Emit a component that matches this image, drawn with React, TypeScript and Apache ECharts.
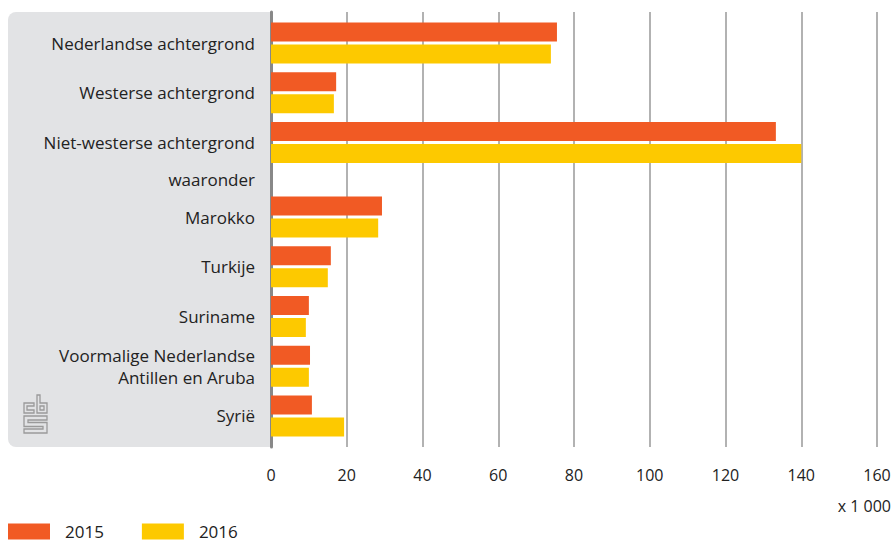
import React, { useEffect, useRef } from "react";
import * as echarts from "echarts";

const categories = [
  "Nederlandse achtergrond",
  "Westerse achtergrond",
  "Niet-westerse achtergrond",
  "waaronder",
  "Marokko",
  "Turkije",
  "Suriname",
  "Voormalige Nederlandse\nAntillen en Aruba",
  "Syrië",
];
const values2015: (number | null)[] = [75.5, 17.2, 133.3, null, 29.3, 15.8, 10.0, 10.3, 10.8];
const values2016: (number | null)[] = [73.9, 16.6, 140.0, null, 28.3, 15.0, 9.2, 10.0, 19.3];
const seriesNames = ["2015", "2016"];
const xTicks = [0, 20, 40, 60, 80, 100, 120, 140, 160];

const LOGO_D =
  "M10 8 H0 V18 H10 V15 H3 V11 H10 Z M13 0 H16 V8 H23 V18 H13 Z M16 11 V15 H20 V11 Z M0 21 H23 V25 H4 V27.5 H23 V38 H0 V34 H19 V31.5 H0 Z";

let registered = false;

export default function App() {
  const ref = useRef<HTMLDivElement>(null);
  useEffect(() => {
    if (!ref.current) return;
    if (!registered) {
      echarts.graphic.registerShape("cbslogo", echarts.graphic.extendPath(LOGO_D, {}) as any);
      registered = true;
    }
    // build quarter-slot rows: subheading gets a half slot
    const rows: string[] = ["", ""];
    const d15: (number | null)[] = [null, null];
    const d16: (number | null)[] = [null, null];
    categories.forEach((c, i) => {
      rows.push(c);
      d15.push(values2015[i]);
      d16.push(values2016[i]);
      if (i === categories.length - 1) return;
      const step = c === "waaronder" || categories[i + 1] === "waaronder" ? 3 : 4;
      for (let k = 1; k < step; k++) {
        rows.push("");
        d15.push(null);
        d16.push(null);
      }
    });
    rows.push("", "");
    d15.push(null, null);
    d16.push(null, null);

    const chart = echarts.init(ref.current, undefined, { renderer: "svg" });
    const font = "'Open Sans', sans-serif";
    chart.setOption({
      animation: false,
      textStyle: { fontFamily: font },
      grid: { left: 271, right: 17, top: 12, bottom: 97, containLabel: false },
      xAxis: {
        type: "value",
        min: xTicks[0],
        max: xTicks[xTicks.length - 1],
        interval: 20,
        axisLine: { show: false },
        axisTick: { show: false },
        axisLabel: { fontSize: 16, color: "#222", margin: 20, fontFamily: font },
        splitLine: { show: true, lineStyle: { color: "#999", width: 1.5 } },
      },
      yAxis: {
        type: "category",
        inverse: true,
        data: rows,
        axisLine: { show: true, lineStyle: { color: "#888", width: 3 } },
        axisTick: { show: false },
        splitLine: { show: false },
        axisLabel: {
          interval: 0,
          fontSize: 17,
          color: "#222",
          margin: 16,
          lineHeight: 22,
          fontFamily: font,
        },
      },
      legend: {
        data: seriesNames,
        left: 8,
        top: 523,
        padding: 0,
        itemWidth: 42,
        itemHeight: 16,
        itemGap: 38,
        icon: "rect",
        textStyle: {
          fontSize: 17,
          lineHeight: 14,
          color: "#222",
          padding: [0, 0, 0, 10],
          fontFamily: font,
        },
      },
      graphic: [
        {
          type: "rect",
          z: -10,
          silent: true,
          shape: { x: 8, y: 12, width: 263, height: 435, r: [8, 0, 0, 8] },
          style: { fill: "#e2e3e5" },
        },
        {
          type: "cbslogo",
          x: 24,
          y: 395,
          scaleX: 1,
          scaleY: 1,
          z: 5,
          silent: true,
          style: { fill: "none", stroke: "#9a9a9a", lineWidth: 1.3 },
        },
        {
          type: "text",
          right: 3,
          top: 498,
          style: { text: "x 1 000", fontSize: 16, fill: "#222", fontFamily: font },
        },
      ],
      series: [
        {
          name: seriesNames[0],
          type: "bar",
          data: d15,
          barWidth: 19,
          barGap: "16%",
          itemStyle: { color: "#f15a24" },
        },
        {
          name: seriesNames[1],
          type: "bar",
          data: d16,
          barWidth: 19,
          barGap: "16%",
          itemStyle: { color: "#fdc900" },
        },
      ],
    });
    return () => chart.dispose();
  }, []);
  return <div ref={ref} style={{ width: 894, height: 544, position: "absolute", left: 0, top: 0 }} />;
}
